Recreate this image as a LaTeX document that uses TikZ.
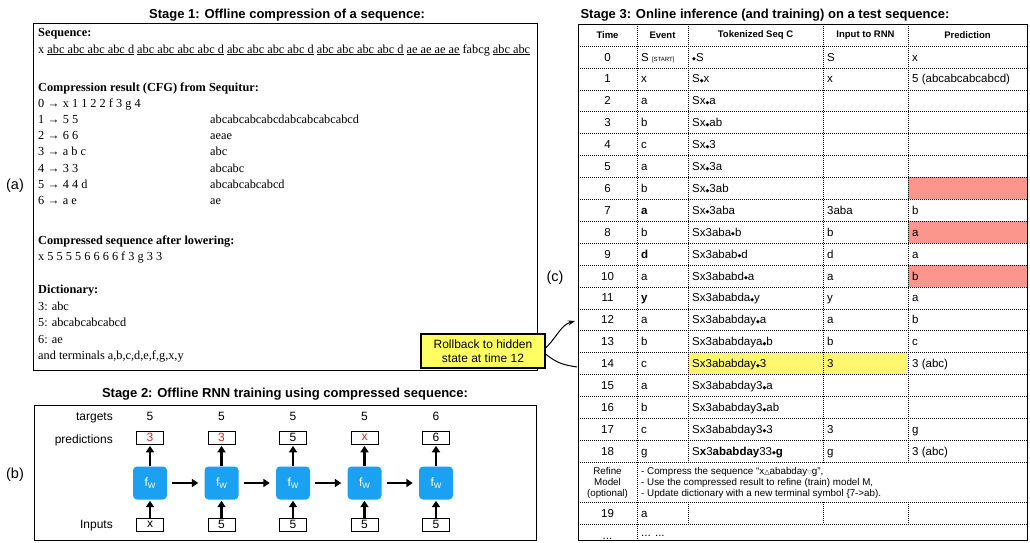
\documentclass[tikz,border=0pt]{standalone}
\usepackage{fontspec}
\setmainfont{Liberation Sans}
\newfontfamily\timesfont{Liberation Serif}
\newfontfamily\symfont{DejaVu Sans}
\usetikzlibrary{positioning,arrows.meta}

\definecolor{fwblue}{RGB}{27,161,242}
\definecolor{missred}{RGB}{250,150,140}
\definecolor{hityellow}{RGB}{255,248,110}
\definecolor{noteyellow}{RGB}{255,255,100}
\definecolor{predred}{RGB}{215,40,30}

\newcommand{\cur}{\raisebox{0.4pt}{\symfont\fontsize{5}{5}\selectfont ◆}}
\newcommand{\bad}[1]{\textcolor{predred}{#1}}
\newcommand{\startmark}{{\fontsize{6}{6}\selectfont[START]}}
\newcommand{\upmark}{{\symfont\fontsize{7}{7}\selectfont △}}
\newcommand{\downmark}{{\symfont\fontsize{6}{6}\selectfont\color{gray}▽}}
\newcommand{\fwtext}{f\raisebox{-2pt}{\fontsize{8}{8}\selectfont W}}

\begin{document}
\begin{tikzpicture}[x=1pt,y=-1pt,
    stagetitle/.style={font=\bfseries\fontsize{13}{15}\selectfont},
    panel/.style={font=\fontsize{14.5}{16}\selectfont},
    serif/.style={anchor=base west,inner sep=0pt,font=\timesfont\fontsize{12.3}{14}\selectfont},
    cell/.style={anchor=base west,inner sep=0pt,font=\fontsize{11.5}{13}\selectfont},
    timecell/.style={cell,anchor=base},
    headcell/.style={inner sep=0pt,font=\bfseries\fontsize{9.5}{11}\selectfont},
    refinetext/.style={anchor=base west,inner sep=0pt,font=\fontsize{9.8}{11}\selectfont},
    dotline/.style={line width=0.5pt,dash pattern=on 1pt off 1pt},
    rnn/.style={fill=fwblue,rounded corners=4pt,minimum width=34pt,minimum height=33pt,
      text=white,inner sep=0pt,font=\fontsize{12}{13}\selectfont},
    valbox/.style={draw,line width=0.8pt,minimum width=27pt,minimum height=13pt,inner sep=0pt,
      font=\fontsize{12}{13}\selectfont},
    rowname/.style={inner sep=0pt,font=\fontsize{12}{13}\selectfont},
    flow/.style={-{Triangle[length=6.5pt,width=8pt]},line width=2.2pt}]
  \useasboundingbox (0,0) rectangle (1030,543);
  \fill[white] (0,0) rectangle (1030,543);

  % Stage 1
  \node[stagetitle] (t1) at (287,15) {Stage 1: Offline compression of a sequence:};
  \draw[line width=0.8pt] (33,23) rectangle (537,370);
  \node[panel] (pa) at (15,186) {(a)};
  \node[serif] (seqhead) at (38,37) {\textbf{Sequence:}};
  \node[serif] (seq) at (38,53) {x \underline{abc abc abc abc d} \underline{abc abc abc abc d}
    \underline{abc abc abc abc d} \underline{abc abc abc abc d} \underline{ae ae ae ae} fabcg \underline{abc abc}};
  \node[serif] (cfghead) at (38,91) {\textbf{Compression result (CFG) from Sequitur:}};
  \node[serif] (r0) at (38,107) {0 → x 1 1 2 2 f 3 g 4};
  \foreach \lhs/\full [count=\k] in {5 5/abcabcabcabcdabcabcabcabcd, 6 6/aeae, a b c/abc,
      3 3/abcabc, 4 4 d/abcabcabcabcd, a e/ae} {
    \node[serif] (r\k) at (38,{107+16.3*\k}) {\k\ → \lhs};
    \node[serif] (x\k) at (210,{107+16.3*\k}) {\full};
  }
  \node[serif] (lowhead) at (38,244) {\textbf{Compressed sequence after lowering:}};
  \node[serif] (low) at (38,260) {x 5 5 5 5 6 6 6 6 f 3 g 3 3};
  \node[serif] (dichead) at (38,293) {\textbf{Dictionary:}};
  \node[serif] (d3) at (38,310) {3: abc};
  \node[serif] (d5) at (38,326) {5: abcabcabcabcd};
  \node[serif] (d6) at (38,343) {6: ae};
  \node[serif] (dterm) at (38,359) {and terminals a,b,c,d,e,f,g,x,y};

  % Stage 2
  \node[stagetitle] (t2) at (285,394) {Stage 2: Offline RNN training using compressed sequence:};
  \draw[line width=0.8pt] (34,405) rectangle (536,540);
  \node[panel] (pb) at (15,475) {(b)};
  \node[rowname,anchor=base east] (lt) at (113,420.5) {targets};
  \node[rowname,anchor=base east] (lp) at (113,443) {predictions};
  \node[rowname,anchor=base east] (li) at (113,528.5) {Inputs};
  \foreach \tg/\pr/\ip [count=\i] in {5/\bad{3}/x, 5/\bad{3}/5, 5/5/5, 5/\bad{x}/5, 6/6/5} {
    \node[rnn] (fw\i) at ({150+71.5*(\i-1)},483) {\fwtext};
    \node[valbox,above=22pt of fw\i] (pr\i) {\pr};
    \node[valbox,below=18pt of fw\i] (ip\i) {\ip};
    \node[rowname,anchor=base] (tg\i) at ({150+71.5*(\i-1)},420.5) {\tg};
    \draw[flow,shorten >=1.5pt] (fw\i) -- (pr\i);
    \draw[flow,shorten >=1pt] (ip\i) -- (fw\i);
  }
  \foreach \i [evaluate=\i as \j using int(\i+1)] in {1,...,4}
    \draw[flow,shorten <=5pt,shorten >=6pt] (fw\i) -- (fw\j);

  % Stage 3
  \node[stagetitle] (t3) at (765,15) {Stage 3: Online inference (and training) on a test sequence:};
  \node[panel] (pc) at (555,278) {(c)};
  \foreach \k in {6,8,10}
    \fill[missred] (908,{46+21.9*\k}) rectangle (1027,{46+21.9*(\k+1)});
  \fill[hityellow] (688,{46+21.9*14}) rectangle (908,{46+21.9*15});
  \foreach \k in {0,...,19}
    \draw[dotline] (578,{46+21.9*\k}) -- (1027,{46+21.9*\k});
  \draw[dotline] (578,502) -- (1027,502);
  \draw[dotline] (578,524) -- (1027,524);
  \draw[dotline] (637,24) -- (637,540);
  \foreach \x in {688,823,908} {
    \draw[dotline] (\x,24) -- (\x,462.1);
    \draw[dotline] (\x,502) -- (\x,524);
  }
  \draw[line width=0.8pt] (578,24) rectangle (1027,540);

  \foreach \x/\h [count=\c] in {607.5/Time, 662.5/Event, 755.5/Tokenized Seq C,
      865.5/Input to RNN, 967.5/Prediction}
    \node[headcell] (h\c) at (\x,35) {\h};
  \foreach \k in {0,...,18}
    \node[timecell] (tm\k) at (607.5,{61+21.9*\k}) {\k};
  \foreach \k/\ev in {0/{S \startmark}, 1/x, 2/a, 3/b, 4/c, 5/a, 6/b, 7/\textbf{a}, 8/b,
      9/\textbf{d}, 10/a, 11/\textbf{y}, 12/a, 13/b, 14/c, 15/a, 16/b, 17/c, 18/g}
    \node[cell] (ev\k) at (641,{61+21.9*\k}) {\ev};
  \foreach \k/\tok in {0/\cur S, 1/S\cur x, 2/Sx\cur a, 3/Sx\cur ab, 4/Sx\cur 3, 5/Sx\cur 3a,
      6/Sx\cur 3ab, 7/Sx\cur 3aba, 8/Sx3aba\cur b, 9/Sx3abab\cur d, 10/Sx3ababd\cur a,
      11/Sx3ababda\cur y, 12/Sx3ababday\cur a, 13/Sx3ababdaya\cur b, 14/Sx3ababday\cur 3,
      15/Sx3ababday3\cur a, 16/Sx3ababday3\cur ab, 17/Sx3ababday3\cur 3,
      18/{S\textbf{x}3\textbf{ababday}33\textbf{\cur g}}}
    \node[cell] (tk\k) at (692,{61+21.9*\k}) {\tok};
  \foreach \k/\ip in {0/S, 1/x, 7/3aba, 8/b, 9/d, 10/a, 11/y, 12/a, 13/b, 14/3, 17/3, 18/g}
    \node[cell] (in\k) at (827,{61+21.9*\k}) {\ip};
  \foreach \k/\pr in {0/x, 1/{5 (abcabcabcabcd)}, 7/b, 8/a, 9/a, 10/b, 11/a, 12/b, 13/c,
      14/{3 (abc)}, 17/g, 18/{3 (abc)}}
    \node[cell] (pd\k) at (912,{61+21.9*\k}) {\pr};

  \foreach \t [count=\j from 0] in {Refine, Model, (optional)}
    \node[refinetext,anchor=base] (rf\j) at (607.5,{474.5+11*\j}) {\t};
  \node[refinetext] (step0) at (641,474.5) {- Compress the sequence “x\upmark ababday\downmark g”,};
  \node[refinetext] (step1) at (641,485.5) {- Use the compressed result to refine (train) model M,};
  \node[refinetext] (step2) at (641,496.5) {- Update dictionary with a new terminal symbol \{7->ab).};
  \node[timecell] (tm19) at (607.5,517) {19};
  \node[cell] (ev19) at (641,517) {a};
  \node[timecell] (tmmore) at (607.5,539) {...};
  \node[cell] (evmore) at (641,536) {... ...};

  % rollback note
  \node[draw,line width=1.3pt,fill=noteyellow,align=center,minimum width=124pt,
    minimum height=34pt,inner sep=2pt,font=\fontsize{12}{14}\selectfont]
    (roll) at (483,351) {Rollback to hidden\\state at time 12};
  \coordinate (row12) at (575,321);
  \coordinate (row14) at (577,367);
  \draw[line width=1pt,-{Stealth[length=7pt,width=5pt]}] ([yshift=3pt]roll.east)
    .. controls +(12,-12) and +(-14,4) .. (row12);
  \draw[line width=1pt] ([yshift=-3pt]roll.east) .. controls +(12,10) and +(-12,-2) .. (row14);
\end{tikzpicture}
\end{document}
